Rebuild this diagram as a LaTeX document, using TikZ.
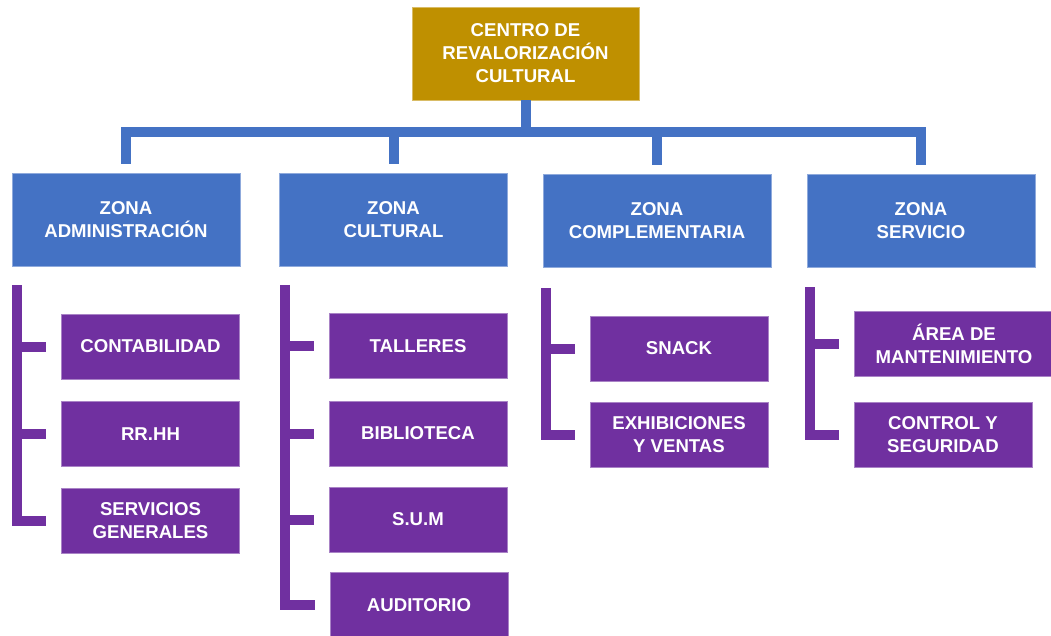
\documentclass[tikz,border=0pt]{standalone}
\usepackage{fontspec}
\setmainfont{Liberation Sans}
\usetikzlibrary{calc}
\definecolor{gold}{HTML}{BF9000}
\definecolor{zblue}{HTML}{4472C4}
\definecolor{zpurple}{HTML}{7030A0}
\begin{document}
\begin{tikzpicture}[x=1pt,y=-1pt,
 boxbase/.style={inner sep=0pt, align=center, text=white, font=\fontsize{18.6}{23}\selectfont\bfseries, line width=0.8pt},
 topbox/.style={boxbase, fill=gold, draw=gold!60!white, minimum width=227pt, minimum height=93pt},
 zonebox/.style={boxbase, fill=zblue, draw=zblue!60!white, minimum width=228pt, minimum height=93pt},
 subbox/.style={boxbase, fill=zpurple, draw=zpurple!60!white, minimum width=178pt, minimum height=65pt},
 bluecon/.style={draw=zblue, line width=10pt, line join=miter},
 purplecon/.style={draw=zpurple, line width=10pt, line join=miter}]
\useasboundingbox (0,0) rectangle (1051,636);

\node[topbox] (top) at (525.5,53.5) {CENTRO DE\\REVALORIZACIÓN\\CULTURAL};

\node[zonebox] (z1) at (126,219.5) {ZONA\\ADMINISTRACIÓN};
\node[zonebox] (z2) at (393.5,220) {ZONA\\CULTURAL};
\node[zonebox] (z3) at (657,220.5) {ZONA\\COMPLEMENTARIA};
\node[zonebox] (z4) at (921,220.5) {ZONA\\SERVICIO};

\node[subbox] (c1) at (150.5,346.5) {CONTABILIDAD};
\node[subbox] (c2) at (150.5,434) {RR.HH};
\node[subbox] (c3) at (150.5,520.5) {SERVICIOS\\GENERALES};

\node[subbox] (t1) at (418,346) {TALLERES};
\node[subbox] (t2) at (418,433.5) {BIBLIOTECA};
\node[subbox] (t3) at (418,519.5) {S.U.M};
\node[subbox] (t4) at (419,605) {AUDITORIO};

\node[subbox] (s1) at (679,348.5) {SNACK};
\node[subbox] (s2) at (679,434.5) {EXHIBICIONES\\Y VENTAS};

\node[subbox, minimum width=200pt] (v1) at (954,344) {ÁREA DE\\MANTENIMIENTO};
\node[subbox] (v2) at (943,434.5) {CONTROL Y\\SEGURIDAD};

% blue connectors
\coordinate (bar) at (526,132);
\draw[bluecon] (top.south) -- (top.south |- bar);
\draw[bluecon] ([yshift=9pt]z1.north) |- (z4.north |- bar) -- ([yshift=9pt]z4.north);
\draw[bluecon] (z2.north |- bar) -- ([yshift=9pt]z2.north);
\draw[bluecon] (z3.north |- bar) -- ([yshift=9pt]z3.north);

% purple brackets
\coordinate (b1) at ([xshift=5.5pt,yshift=-19pt]z1.south west);
\draw[purplecon] (b1) -- (b1 |- c3.west) -- ([xshift=-15pt]c3.west);
\draw[purplecon] (b1 |- c1.west) -- ([xshift=-15pt]c1.west);
\draw[purplecon] (b1 |- c2.west) -- ([xshift=-15pt]c2.west);

\coordinate (b2) at ([xshift=5.5pt,yshift=-18pt]z2.south west);
\draw[purplecon] (b2) -- (b2 |- t4.west) -- ([xshift=-15pt]t4.west);
\draw[purplecon] (b2 |- t1.west) -- ([xshift=-15pt]t1.west);
\draw[purplecon] (b2 |- t2.west) -- ([xshift=-15pt]t2.west);
\draw[purplecon] (b2 |- t3.west) -- ([xshift=-15pt]t3.west);

\coordinate (b3) at ([xshift=3pt,yshift=-21pt]z3.south west);
\draw[purplecon] (b3) -- (b3 |- s2.west) -- ([xshift=-15pt]s2.west);
\draw[purplecon] (b3 |- s1.west) -- ([xshift=-15pt]s1.west);

\coordinate (b4) at ([xshift=3pt,yshift=-20pt]z4.south west);
\draw[purplecon] (b4) -- (b4 |- v2.west) -- ([xshift=-15pt]v2.west);
\draw[purplecon] (b4 |- v1.west) -- ([xshift=-15pt]v1.west);
\end{tikzpicture}
\end{document}
